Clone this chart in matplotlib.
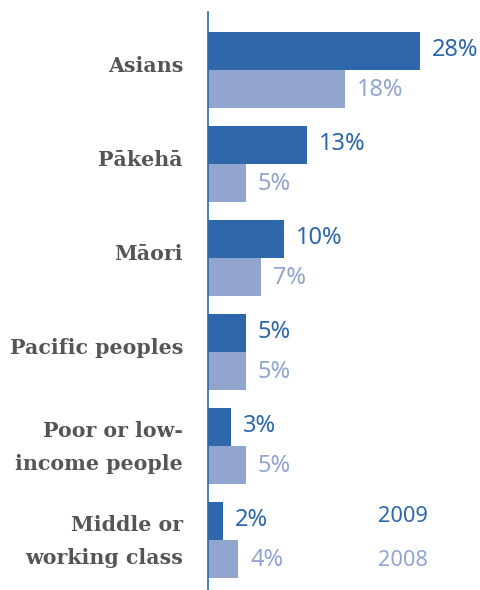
import numpy as np
import matplotlib.transforms as mtransforms
from matplotlib import pyplot as plt

categories = ['Asians', 'Pākehā', 'Māori', 'Pacific peoples',
              'Poor or low-\nincome people', 'Middle or\nworking class']
vals_2009 = [28, 13, 10, 5, 3, 2]
vals_2008 = [18, 5, 7, 5, 5, 4]
years = ['2009', '2008']

dark = '#2e67aa'
light = '#91a5cf'

W, H = 481, 590
fig = plt.figure(figsize=(W / 100, H / 100), dpi=100)
ax = fig.add_axes([208 / W, 0, 273 / W, 578 / H])

y = np.arange(len(categories))
h = 0.404
ax.barh(y - h / 2, vals_2009, height=h, color=dark)
ax.barh(y + h / 2, vals_2008, height=h, color=light)

for yi, v in zip(y, vals_2009):
    ax.annotate(f'{v}%', (v, yi - h / 2), xytext=(8.6, 1), textcoords='offset points',
                va='center', ha='left', color=dark, fontsize=17, family='Noto Sans')
for yi, v in zip(y, vals_2008):
    ax.annotate(f'{v}%', (v, yi + h / 2), xytext=(8.6, -1), textcoords='offset points',
                va='center', ha='left', color=light, fontsize=17, family='Noto Sans')

ax.set_xlim(0, 36)
ax.set_ylim(5.532, -0.617)

ax.set_yticks(y, categories)
ax.tick_params(axis='y', length=0, pad=18)
for lab in ax.get_yticklabels():
    lab.set_fontfamily('DejaVu Serif')
    lab.set_fontweight('bold')
    lab.set_fontsize(14.8)
    lab.set_color('#555555')
    lab.set_linespacing(1.8)
    lab.set_ha('right')
    shift = 6 if '\n' not in lab.get_text() else 7
    lab.set_transform(lab.get_transform() +
                      mtransforms.ScaledTranslation(0, shift / 100, fig.dpi_scale_trans))
ax.set_xticks([])

for s in ['top', 'right', 'bottom']:
    ax.spines[s].set_visible(False)
ax.spines['left'].set_color(dark)
ax.spines['left'].set_linewidth(1.2)

fig.text(378 / W, 1 - 516 / H, years[0], color=dark, fontsize=15.7,
         family='Noto Sans', va='center', ha='left')
fig.text(378 / W, 1 - 560 / H, years[1], color=light, fontsize=15.7,
         family='Noto Sans', va='center', ha='left')

fig.savefig('out.png', dpi=100)
